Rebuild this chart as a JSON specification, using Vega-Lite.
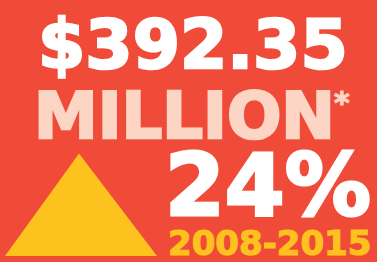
{
  "$schema": "https://vega.github.io/schema/vega-lite/v6.json",
  "width": 377,
  "height": 262,
  "autosize": {"type": "fit", "contains": "padding"},
  "padding": 0,
  "background": "#F04B38",
  "config": {"view": {"stroke": null}},
  "data": {"values": [
    {"item": "tri", "x": 5, "y": 0, "label": ""},
    {"item": "tri", "x": 79, "y": 105, "label": ""},
    {"item": "tri", "x": 157, "y": 0, "label": ""},
    {"item": "amount", "x": 38, "y": 192, "label": "$392.35"},
    {"item": "unit", "x": 34, "y": 121, "label": "MILLION"},
    {"item": "star", "x": 334, "y": 146, "label": "*"},
    {"item": "pct", "x": 165, "y": 42, "label": "24%"},
    {"item": "years", "x": 168, "y": 1, "label": "2008-2015"}
  ]},
  "encoding": {
    "x": {"field": "x", "type": "quantitative", "scale": {"domain": [0, 377], "nice": false}, "axis": null},
    "y": {"field": "y", "type": "quantitative", "scale": {"domain": [0, 262], "nice": false}, "axis": null}
  },
  "layer": [
    {"transform": [{"filter": "datum.item === 'tri'"}], "mark": {"type": "area", "color": "#FDC21E", "clip": false}},
    {"transform": [{"filter": "datum.item === 'amount'"}], "mark": {"type": "text", "align": "left", "baseline": "alphabetic", "font": "DejaVu Sans", "fontWeight": "bold", "fontSize": 68, "color": "#FFFFFF", "stroke": "#FFFFFF", "strokeWidth": 2.5}, "encoding": {"text": {"field": "label"}}},
    {"transform": [{"filter": "datum.item === 'unit'"}], "mark": {"type": "text", "align": "left", "baseline": "alphabetic", "font": "DejaVu Sans", "fontWeight": "bold", "fontSize": 64, "color": "#FCD5C5", "stroke": "#FCD5C5", "strokeWidth": 2.5}, "encoding": {"text": {"field": "label"}}},
    {"transform": [{"filter": "datum.item === 'star'"}], "mark": {"type": "text", "align": "left", "baseline": "alphabetic", "font": "DejaVu Sans", "fontWeight": "bold", "fontSize": 30, "color": "#FCD5C5", "stroke": "#FCD5C5", "strokeWidth": 1}, "encoding": {"text": {"field": "label"}}},
    {"transform": [{"filter": "datum.item === 'pct'"}], "mark": {"type": "text", "align": "left", "baseline": "alphabetic", "font": "DejaVu Sans", "fontWeight": "bold", "fontSize": 86, "color": "#FFFFFF", "stroke": "#FFFFFF", "strokeWidth": 3}, "encoding": {"text": {"field": "label"}}},
    {"transform": [{"filter": "datum.item === 'years'"}], "mark": {"type": "text", "align": "left", "baseline": "alphabetic", "font": "DejaVu Sans", "fontWeight": "bold", "fontSize": 34, "color": "#FDC21E", "stroke": "#FDC21E", "strokeWidth": 1.2}, "encoding": {"text": {"field": "label"}}}
  ]
}
